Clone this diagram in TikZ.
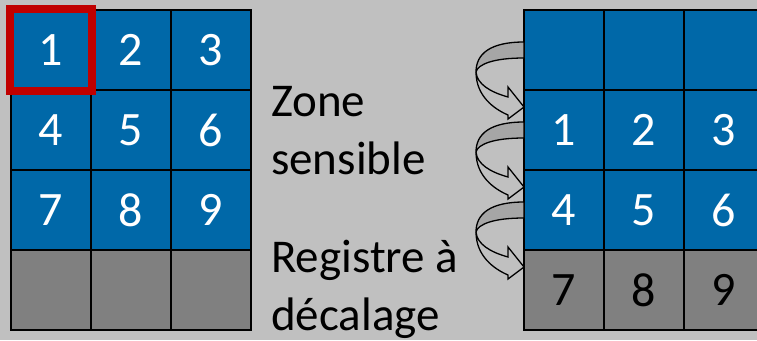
\documentclass[tikz,border=0pt]{standalone}
\usepackage{fontspec}
\setmainfont{Carlito}
\definecolor{bg}{HTML}{C0C0C0}
\definecolor{cellblue}{HTML}{0068A8}
\definecolor{cellgray}{HTML}{808080}
\definecolor{bandgray}{HTML}{A6A6A6}
\definecolor{hired}{HTML}{C00000}
\begin{document}
\begin{tikzpicture}[x=1pt,y=-1pt,
  cell/.style={draw=black,line width=1.6pt,minimum size=80pt,inner sep=0pt,font=\fontsize{48}{58}\selectfont},
  bluecell/.style={cell,fill=cellblue,text=white},
  graycell/.style={cell,fill=cellgray,text=black},
  textlabel/.style={align=left,inner sep=0pt,font=\fontsize{47}{58}\selectfont},
  backband/.style={fill=bandgray,draw=black,line width=1.3pt,line join=round},
  frontband/.style={fill=bg,draw=black,line width=1.3pt,line join=miter}]
\fill[bg] (0,0) rectangle (757,340);
\useasboundingbox (0,0) rectangle (757,340);
% left grid
\node[bluecell] (L1) at (51,50) {1};
\node[bluecell] (L2) at (131,50) {2};
\node[bluecell] (L3) at (211,50) {3};
\node[bluecell] (L4) at (51,130) {4};
\node[bluecell] (L5) at (131,130) {5};
\node[bluecell] (L6) at (211,130) {6};
\node[bluecell] (L7) at (51,210) {7};
\node[bluecell] (L8) at (131,210) {8};
\node[bluecell] (L9) at (211,210) {9};
\node[graycell] (L10) at (51,290) {};
\node[graycell] (L11) at (131,290) {};
\node[graycell] (L12) at (211,290) {};
\draw[hired,line width=8pt] (L1.north west) rectangle (L1.south east);
% right grid
\node[bluecell] (R01) at (564,50) {};
\node[bluecell] (R02) at (644,50) {};
\node[bluecell] (R03) at (724,50) {};
\node[bluecell] (R1) at (564,130) {1};
\node[bluecell] (R2) at (644,130) {2};
\node[bluecell] (R3) at (724,130) {3};
\node[bluecell] (R4) at (564,210) {4};
\node[bluecell] (R5) at (644,210) {5};
\node[bluecell] (R6) at (724,210) {6};
\node[graycell] (R7) at (564,290) {7};
\node[graycell] (R8) at (644,290) {8};
\node[graycell] (R9) at (724,290) {9};
% labels
\node[textlabel,anchor=base west] (zone) at (271,174) {Zone\\sensible};
\node[textlabel,anchor=base west] (reg) at (271,330) {Registre à\\décalage};
% curved arrows
\foreach \t in {42,122,202}{
  \begin{scope}[shift={(524,\t)}]
    \draw[backband] (0,0) .. controls (-34,0) and (-48,12) .. (-48,30)
      .. controls (-46,22) and (-30,16) .. (0,16) -- cycle;
    \draw[frontband] (-48,30) .. controls (-48,54) and (-30,67) .. (-16,73)
      -- (-16,77) -- (0,65) -- (-16,45) -- (-16,55)
      .. controls (-34,50) and (-47,42) .. (-48,30) -- cycle;
  \end{scope}
}
\end{tikzpicture}
\end{document}
